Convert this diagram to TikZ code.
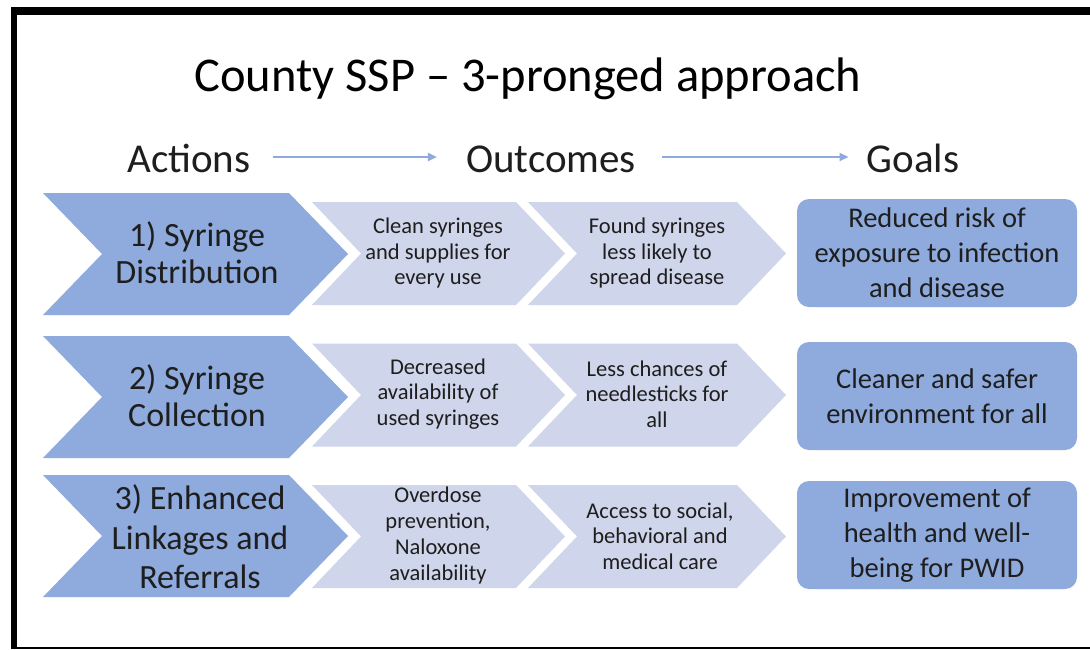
\documentclass[tikz,border=0pt]{standalone}
\usepackage{fontspec}
\setmainfont{Carlito}
\usetikzlibrary{arrows.meta}
\definecolor{bigblue}{HTML}{8FAADC}
\definecolor{lightblue}{HTML}{CFD5EA}
\definecolor{txt}{HTML}{1E1E1E}
\definecolor{arrowblue}{HTML}{8FAADC}
% #1 left x, #2 shoulder x, #3 point depth, #4 centre y, #5 half height, #6 colour
\newcommand{\chevshape}[6]{%
  \fill[#6] (#1,#4-#5) -- (#2,#4-#5) -- (#2+#3,#4) -- (#2,#4+#5) -- (#1,#4+#5) -- (#1+#3,#4) -- cycle;}
\begin{document}
\begin{tikzpicture}[x=1pt,y=-1pt,
  titlestyle/.style={font=\fontsize{48.5}{56}\selectfont, anchor=base, text=black, inner sep=0pt},
  hdr/.style={font=\fontsize{41}{49}\selectfont, anchor=base, text=txt, inner sep=0pt, text height=30pt, text depth=0pt},
  hdrarrow/.style={draw=arrowblue, line width=2pt, -{Triangle[length=9pt,width=8pt]}},
  acttext/.style={font=\fontsize{34}{37}\selectfont, align=center, text=txt, inner sep=0pt},
  outtext/.style={font=\fontsize{22.5}{25.5}\selectfont, align=center, text=txt, inner sep=0pt},
  goalbox/.style={fill=bigblue, rounded corners=12pt, minimum width=280pt, minimum height=108pt,
    font=\fontsize{28.5}{35}\selectfont, align=center, text=txt, inner sep=0pt},
  framebar/.style={fill=black}
]
\useasboundingbox (0,0) rectangle (1090,649);
\fill[white] (0,0) rectangle (1090,649);
% frame
\fill[framebar] (11,7) rectangle (1090,14.5);
\fill[framebar] (11,7) rectangle (17.3,649);
\fill[framebar] (11,647) rectangle (1090,649);

% title
\node[titlestyle] (title) at (528,91) {County SSP – 3-pronged approach};

% headers
\node[hdr] (actions) at (189,172) {Actions};
\node[hdr] (outcomes) at (551,172) {Outcomes};
\node[hdr] (goals) at (913,172) {Goals};
\draw[hdrarrow, shorten <=22pt, shorten >=29pt] (actions.east) -- (outcomes.west);
\draw[hdrarrow, shorten <=26pt, shorten >=18pt] (outcomes.east) -- (goals.west);

% big chevrons
\chevshape{43}{289}{59}{254}{61}{bigblue}
\chevshape{43}{289}{59}{397}{61}{bigblue}
\chevshape{43}{289}{59}{536}{61}{bigblue}
% light chevrons
\foreach \yc in {253.5,395,536.5}{
  \chevshape{312}{516}{49}{\yc}{51.5}{lightblue}
  \chevshape{528}{737}{49}{\yc}{51.5}{lightblue}
}

% action texts
\node[acttext] (act1) at (197,253) {1) Syringe\\Distribution};
\node[acttext] (act2) at (197,396) {2) Syringe\\Collection};
\node[acttext, font=\fontsize{34}{39.5}\selectfont] (act3) at (200,537) {3) Enhanced\\Linkages and\\Referrals};

% outcome texts
\node[outtext] (out1a) at (438,253) {Clean syringes\\and supplies for\\every use};
\node[outtext] (out1b) at (657,253) {Found syringes\\less likely to\\spread disease};
\node[outtext] (out2a) at (438,394) {Decreased\\availability of\\used syringes};
\node[outtext] (out2b) at (657,394) {Less chances of\\needlesticks for\\all};
\node[outtext, font=\fontsize{22.5}{26}\selectfont] (out3a) at (438,535) {Overdose\\prevention,\\Naloxone\\availability};
\node[outtext] (out3b) at (660,536) {Access to social,\\behavioral and\\medical care};

% goals
\node[goalbox] (goal1) at (937,253) {Reduced risk of\\exposure to infection\\and disease};
\node[goalbox] (goal2) at (937,396) {Cleaner and safer\\environment for all};
\node[goalbox] (goal3) at (937,535) {Improvement of\\health and well-\\being for PWID};
\end{tikzpicture}
\end{document}
